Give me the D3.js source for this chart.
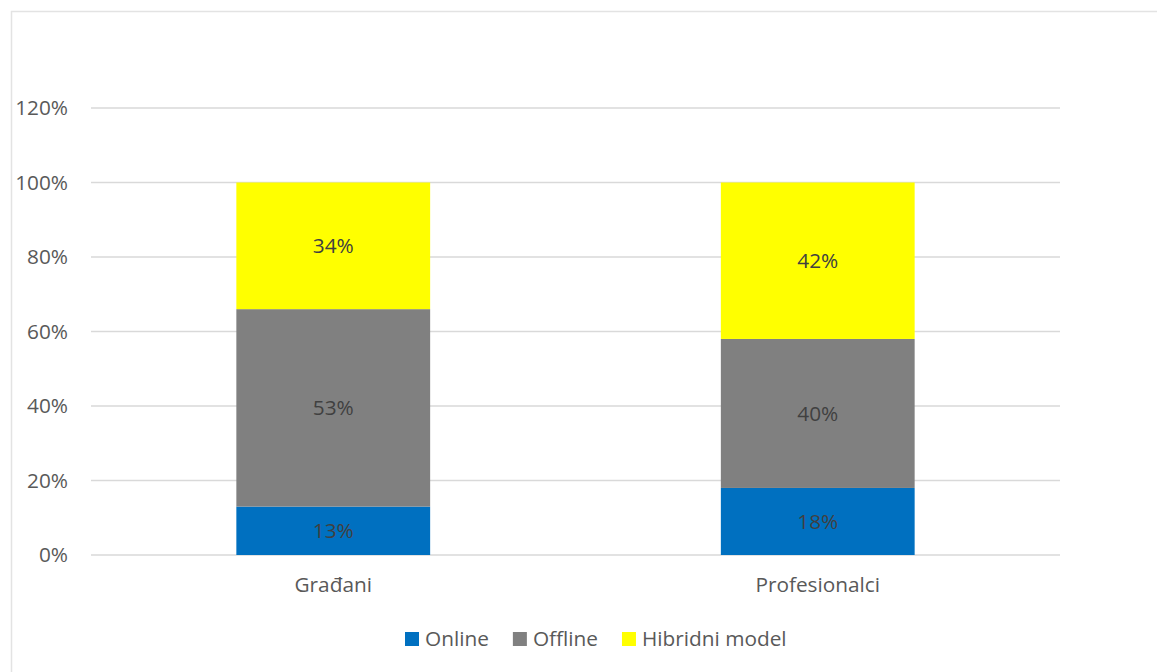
<!DOCTYPE html>
<html>
<head>
<meta charset="utf-8">
<script src="https://cdn.jsdelivr.net/npm/d3@7"></script>
<style>
  body { margin: 0; background: #fff; }
  svg { font-family: "Open Sans", sans-serif; }
</style>
</head>
<body>
<div id="chart"></div>
<script>
// Data
const categories = ["Građani", "Profesionalci"];
const seriesNames = ["Online", "Offline", "Hibridni model"];
const online = [13, 18];
const offline = [53, 40];
const hibridni = [34, 42];
const yTicks = [0, 20, 40, 60, 80, 100, 120];

const colors = ["#0070c0", "#808080", "#ffff00"];

const width = 1157;
const height = 672;
const margin = { top: 108, right: 97, bottom: 117, left: 91 };
const fontSize = "20.8px";

const svg = d3.select("#chart")
  .append("svg")
  .attr("width", width)
  .attr("height", height);

// chart frame (only left and top edges visible)
svg.append("rect")
  .attr("x", 11.5).attr("y", 11.5)
  .attr("width", 1300).attr("height", 800)
  .attr("fill", "none")
  .attr("stroke", "#e3e3e3")
  .attr("stroke-width", 1.5);

const x = d3.scaleBand()
  .domain(categories)
  .range([margin.left, width - margin.right])
  .paddingInner(0.6)
  .paddingOuter(0.3);

const y = d3.scaleLinear()
  .domain([0, 120])
  .range([height - margin.bottom, margin.top]);

// Gridlines
svg.append("g")
  .selectAll("line")
  .data(yTicks)
  .enter()
  .append("line")
  .attr("x1", margin.left)
  .attr("x2", width - margin.right)
  .attr("y1", d => y(d))
  .attr("y2", d => y(d))
  .attr("stroke", "#d9d9d9")
  .attr("stroke-width", 1.5);

// Y tick labels
svg.append("g")
  .selectAll("text")
  .data(yTicks)
  .enter()
  .append("text")
  .attr("x", 68)
  .attr("y", d => y(d))
  .attr("dy", "0.36em")
  .attr("text-anchor", "end")
  .attr("fill", "#595959")
  .style("font-size", fontSize)
  .text(d => d + "%");

// Stack
const rows = categories.map((c, i) => ({
  cat: c, "Online": online[i], "Offline": offline[i], "Hibridni model": hibridni[i]
}));
const stacked = d3.stack().keys(seriesNames)(rows);

const layers = svg.append("g")
  .selectAll("g")
  .data(stacked)
  .enter()
  .append("g")
  .attr("fill", (d, i) => colors[i]);

layers.selectAll("rect")
  .data(d => d)
  .enter()
  .append("rect")
  .attr("x", d => x(d.data.cat))
  .attr("width", x.bandwidth())
  .attr("y", d => y(d[1]))
  .attr("height", d => y(d[0]) - y(d[1]));

// Data labels
layers.selectAll("text")
  .data(d => d)
  .enter()
  .append("text")
  .attr("x", d => x(d.data.cat) + x.bandwidth() / 2)
  .attr("y", d => (y(d[0]) + y(d[1])) / 2)
  .attr("dy", "0.36em")
  .attr("text-anchor", "middle")
  .attr("fill", "#404040")
  .style("font-size", fontSize)
  .text(d => (d[1] - d[0]) + "%");

// Category labels
svg.append("g")
  .selectAll("text")
  .data(categories)
  .enter()
  .append("text")
  .attr("x", d => x(d) + x.bandwidth() / 2)
  .attr("y", 592)
  .attr("text-anchor", "middle")
  .attr("fill", "#595959")
  .style("font-size", fontSize)
  .text(d => d);

// Legend
const legend = svg.append("g");
let lx = 405;
seriesNames.forEach((name, i) => {
  legend.append("rect")
    .attr("x", lx).attr("y", 632)
    .attr("width", 14).attr("height", 14)
    .attr("fill", colors[i]);
  const t = legend.append("text")
    .attr("x", lx + 20)
    .attr("y", 639)
    .attr("dy", "0.36em")
    .attr("fill", "#595959")
    .style("font-size", fontSize)
    .text(name);
  lx += 20 + t.node().getComputedTextLength() + 24;
});
</script>
</body>
</html>
